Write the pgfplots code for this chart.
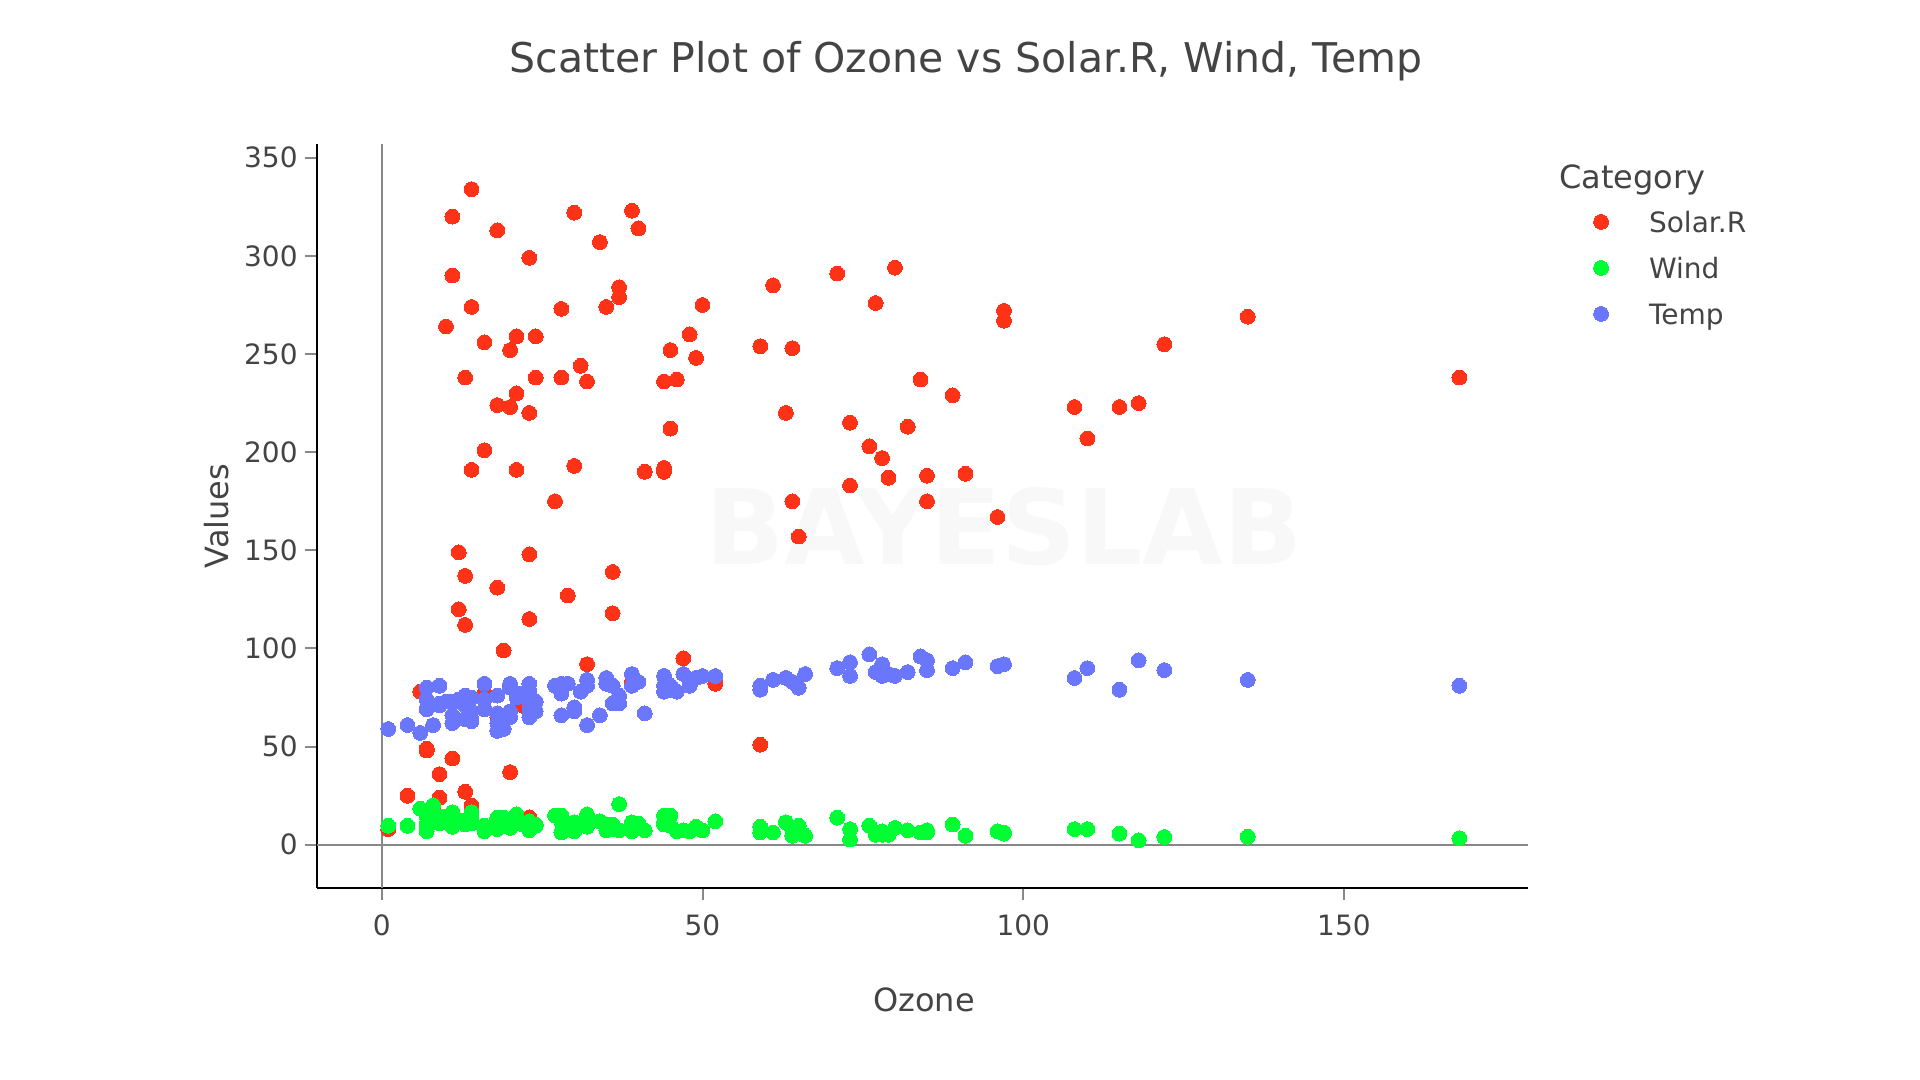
\documentclass[border=0pt]{standalone}
\usepackage{fontspec}
\setmainfont{DejaVu Sans}
\usepackage{pgfplots}
\pgfplotsset{compat=1.18}
\usepackage{pgfplotstable}
\definecolor{cred}{HTML}{FD3216}
\definecolor{cgreen}{HTML}{00FE35}
\definecolor{cblue}{HTML}{6A76FC}
\definecolor{txt}{HTML}{444444}
\definecolor{zl}{HTML}{888888}
\definecolor{wm}{HTML}{F8F8F8}

\pgfplotstableread{
oz sol wind temp
41 190 7.4 67
36 118 8.0 72
12 149 12.6 74
18 313 11.5 62
28 nan 14.9 66
23 299 8.6 65
19 99 13.8 59
8 19 20.1 61
7 nan 6.9 74
16 256 9.7 69
11 290 9.2 66
14 274 10.9 68
18 65 13.2 58
14 334 11.5 64
34 307 12.0 66
6 78 18.4 57
30 322 11.5 68
11 44 9.7 62
1 8 9.7 59
11 320 16.6 73
4 25 9.7 61
32 92 12.0 61
23 13 12.0 67
45 252 14.9 81
115 223 5.7 79
37 279 7.4 76
29 127 9.7 82
71 291 13.8 90
39 323 11.5 87
23 148 8.0 82
21 191 14.9 77
37 284 20.7 72
20 37 9.2 65
12 120 11.5 73
13 137 10.3 76
135 269 4.1 84
49 248 9.2 85
32 236 9.2 81
64 175 4.6 83
40 314 10.9 83
77 276 5.1 88
97 267 6.3 92
97 272 5.7 92
85 175 7.4 89
10 264 14.3 73
27 175 14.9 81
7 48 14.3 80
48 260 6.9 81
35 274 10.3 82
61 285 6.3 84
79 187 5.1 87
63 220 11.5 85
16 7 6.9 74
80 294 8.6 86
108 223 8.0 85
20 81 8.6 82
52 82 12.0 86
82 213 7.4 88
50 275 7.4 86
64 253 7.4 83
59 254 9.2 81
39 83 6.9 81
9 24 13.8 81
16 77 7.4 82
78 nan 6.9 86
35 nan 7.4 85
66 nan 4.6 87
122 255 4.0 89
89 229 10.3 90
110 207 8.0 90
44 192 11.5 86
28 273 11.5 82
65 157 9.7 80
22 71 10.3 77
59 51 6.3 79
23 115 7.4 76
31 244 10.9 78
44 190 10.3 78
21 259 15.5 77
9 36 14.3 72
45 212 9.7 79
168 238 3.4 81
73 215 8.0 86
76 203 9.7 97
118 225 2.3 94
84 237 6.3 96
85 188 6.3 94
96 167 6.9 91
78 197 5.1 92
73 183 2.8 93
91 189 4.6 93
47 95 7.4 87
32 92 15.5 84
20 252 10.9 80
23 220 10.3 78
21 230 10.9 75
24 259 9.7 73
44 236 14.9 81
21 259 15.5 76
28 238 6.3 77
9 24 10.9 71
13 112 11.5 71
46 237 6.9 78
18 224 13.8 67
13 27 10.3 76
24 238 10.3 68
16 201 8.0 82
13 238 12.6 64
23 14 9.2 71
36 139 10.3 81
7 49 10.3 69
14 20 16.6 63
30 193 6.9 70
14 191 14.3 75
18 131 8.0 76
20 223 11.5 68
}\airq

\begin{document}
\begin{tikzpicture}
\path[use as bounding box] (0pt,0pt) rectangle (960pt,540pt);
\node[font=\fontsize{52}{60}\selectfont\bfseries, text=wm, anchor=center] at (502pt,276.5pt) {BAYESLAB};
\node[font=\fontsize{20.5}{24}\selectfont, text=txt, anchor=base, inner sep=0pt] at (483pt,503.5pt) {Scatter Plot of Ozone vs Solar.R, Wind, Temp};
\node[font=\fontsize{16}{19}\selectfont, text=txt, anchor=base, inner sep=0pt] at (462pt,34.15pt) {Ozone};
\node[font=\fontsize{16}{19}\selectfont, text=txt, anchor=base, inner sep=0pt, rotate=90] at (114.35pt,282pt) {Values};
\node[font=\fontsize{16}{19}\selectfont, text=txt, anchor=base west, inner sep=0pt] at (779.5pt,445.65pt) {Category};
\begin{axis}[
  at={(158.5pt,96pt)}, anchor=south west,
  scale only axis, width=605.5pt, height=372pt,
  xmin=-10.1, xmax=178.7, ymin=-22, ymax=357,
  axis x line*=bottom, axis y line*=left,
  axis line style={black, line width=1pt},
  tick align=outside, major tick length=6pt,
  tick style={zl, line width=1pt},
  xtick={0,50,100,150}, ytick={0,50,...,350},
  /pgf/number format/assume math mode=true,
  ticklabel style={font=\fontsize{14}{16}\selectfont, text=txt},
  xticklabel style={anchor=north, inner sep=0pt, yshift=-7.4pt},
  yticklabel style={anchor=east, inner sep=0pt, xshift=-3.5pt},
  legend cell align=left,
  legend image code/.code={\draw[#1] plot coordinates {(0pt,0pt)};},
  legend style={at={(1.0542,0.9089)}, anchor=north west, draw=none, fill=none,
    inner sep=0pt, outer sep=0pt, row sep=12.8pt, column sep=20.3pt,
    nodes={inner sep=0pt, text height=10.2pt, text depth=0pt, font=\fontsize{14}{16}\selectfont, text=txt}},
]
\draw[zl, line width=1pt] (axis cs:0,-22) -- (axis cs:0,357);
\draw[zl, line width=1pt] (axis cs:-10.1,0) -- (axis cs:178.7,0);
\addplot[only marks, mark=*, mark size=3.7pt, color=cred, mark options={line width=0pt}] table[x=oz, y=sol] {\airq};
\addlegendentry{Solar.R}
\addplot[only marks, mark=*, mark size=3.7pt, color=cgreen, mark options={line width=0pt}] table[x=oz, y=wind] {\airq};
\addlegendentry{Wind}
\addplot[only marks, mark=*, mark size=3.7pt, color=cblue, mark options={line width=0pt}] table[x=oz, y=temp] {\airq};
\addlegendentry{Temp}
\end{axis}
\end{tikzpicture}
\end{document}
